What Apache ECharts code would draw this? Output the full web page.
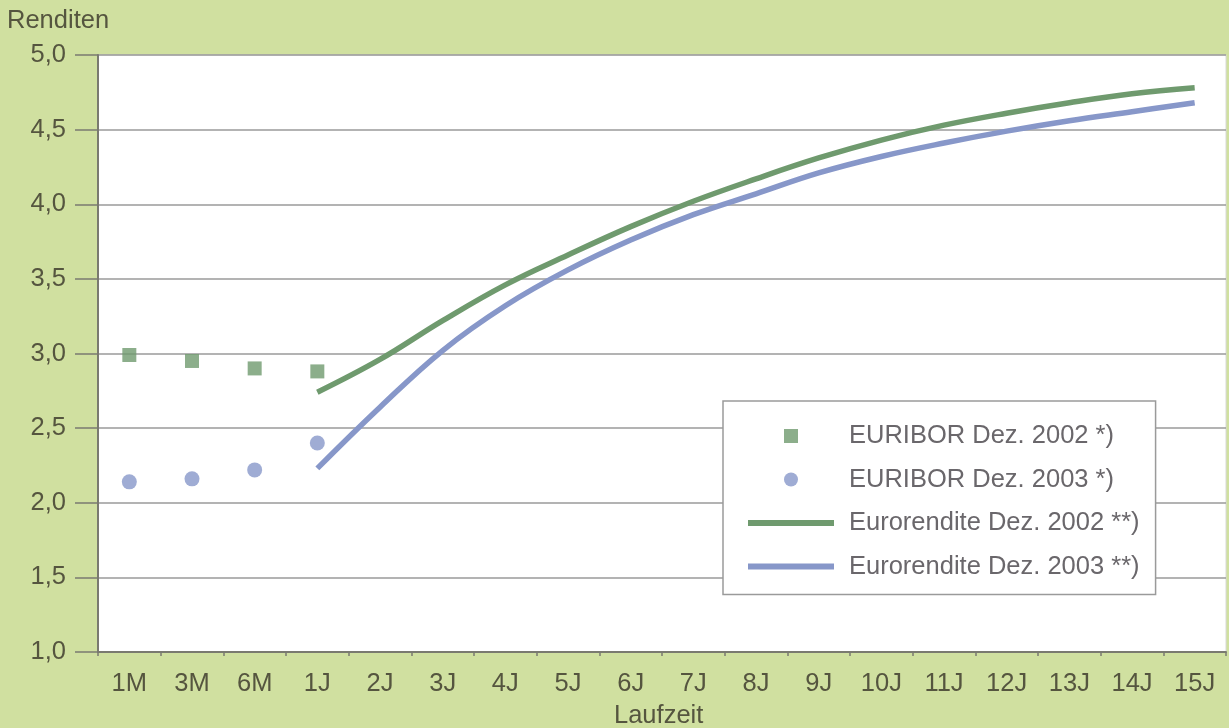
<!DOCTYPE html>
<html>
<head>
<meta charset="utf-8">
<script src="https://cdn.jsdelivr.net/npm/echarts@6/dist/echarts.min.js"></script>
<style>
  html, body { margin: 0; padding: 0; background: #d0e0a0; }
  #chart { width: 1229px; height: 728px; }
</style>
</head>
<body>
<div id="chart"></div>
<script>
// Laufzeiten (maturities)
const categories = ['1M', '3M', '6M', '1J', '2J', '3J', '4J', '5J', '6J', '7J', '8J', '9J', '10J', '11J', '12J', '13J', '14J', '15J'];

// Geldmarktsätze (EURIBOR), nur bis 1 Jahr
const euribor2002 = [2.99, 2.95, 2.90, 2.88, null, null, null, null, null, null, null, null, null, null, null, null, null, null];
const euribor2003 = [2.14, 2.16, 2.22, 2.40, null, null, null, null, null, null, null, null, null, null, null, null, null, null];

// Zinsstrukturkurven ab 1 Jahr
const eurorendite2002 = [null, null, null, 2.74, 2.96, 3.22, 3.46, 3.66, 3.85, 4.02, 4.17, 4.31, 4.43, 4.53, 4.61, 4.68, 4.74, 4.78];
const eurorendite2003 = [null, null, null, 2.23, 2.64, 3.02, 3.32, 3.56, 3.76, 3.93, 4.07, 4.21, 4.32, 4.41, 4.49, 4.56, 4.62, 4.68];

const seriesNames = [
  'EURIBOR Dez. 2002 *)',
  'EURIBOR Dez. 2003 *)',
  'Eurorendite Dez. 2002 **)',
  'Eurorendite Dez. 2003 **)'
];

const yTicks = { min: 1.0, max: 5.0, interval: 0.5 };

const GREEN = '#6f9a6e';
const BLUE = '#8797c9';
const TEXT = '#55553f';
const FONT = 'Liberation Sans, Arial, sans-serif';
const FS = 25.5;

const chart = echarts.init(document.getElementById('chart'), null, { renderer: 'canvas' });

chart.setOption({
  backgroundColor: '#d0e0a0',
  animation: false,
  textStyle: { fontFamily: FONT },
  grid: { left: 98, right: 3, top: 55, bottom: 76, show: true, backgroundColor: '#ffffff', borderColor: '#d8d8d8', borderWidth: 1 },
  graphic: [
    { type: 'text', left: 7, top: 8, style: { text: 'Renditen', font: FS + 'px ' + FONT, fill: TEXT } },
    { type: 'text', left: 614, top: 703, style: { text: 'Laufzeit', font: FS + 'px ' + FONT, fill: TEXT } }
  ],
  xAxis: {
    type: 'category',
    data: categories,
    boundaryGap: true,
    axisLine: { lineStyle: { color: '#7a7a70', width: 2 } },
    axisTick: { show: true, length: 4, lineStyle: { color: '#7a7a70', width: 1.5 } },
    axisLabel: { color: TEXT, fontSize: FS, margin: 19, fontFamily: FONT, interval: 0 },
    splitLine: { show: false }
  },
  yAxis: {
    type: 'value',
    min: yTicks.min,
    max: yTicks.max,
    interval: yTicks.interval,
    axisLine: { show: true, lineStyle: { color: '#7a7a70', width: 2 } },
    axisTick: { show: true, length: 23, lineStyle: { color: '#7a7a70', width: 1.5 } },
    axisLabel: {
      color: TEXT, fontSize: FS, margin: 32, fontFamily: FONT,
      formatter: v => v.toFixed(1).replace('.', ',')
    },
    splitLine: { show: true, lineStyle: { color: '#9a9a9a', width: 1.5 } }
  },
  legend: {
    orient: 'vertical',
    left: 723,
    top: 401,
    padding: [22, 16, 15, 25],
    itemGap: 17.5,
    itemWidth: 86,
    itemHeight: 14,
    symbolKeepAspect: true,
    backgroundColor: '#ffffff',
    borderColor: '#9a9a9a',
    borderWidth: 1.5,
    textStyle: { color: '#6a676b', fontSize: FS, fontFamily: FONT, padding: [0, 0, 0, 10] },
    data: [
      { name: seriesNames[0], icon: 'path://M0,0H10V10H0Z' },
      { name: seriesNames[1], icon: 'circle' },
      { name: seriesNames[2], icon: 'path://M0,0H86V6H0Z' },
      { name: seriesNames[3], icon: 'path://M0,0H86V6H0Z' }
    ]
  },
  series: [
    {
      name: seriesNames[0], type: 'scatter', data: euribor2002,
      symbol: 'rect', symbolSize: 14, itemStyle: { color: GREEN }
    },
    {
      name: seriesNames[1], type: 'scatter', data: euribor2003,
      symbol: 'circle', symbolSize: 15, itemStyle: { color: BLUE }
    },
    {
      name: seriesNames[2], type: 'line', data: eurorendite2002, smooth: 0.4,
      showSymbol: false, symbol: 'none', lineStyle: { color: GREEN, width: 5.5 }, itemStyle: { color: GREEN }
    },
    {
      name: seriesNames[3], type: 'line', data: eurorendite2003, smooth: 0.4,
      showSymbol: false, symbol: 'none', lineStyle: { color: BLUE, width: 5.5 }, itemStyle: { color: BLUE }
    }
  ]
});
</script>
</body>
</html>
